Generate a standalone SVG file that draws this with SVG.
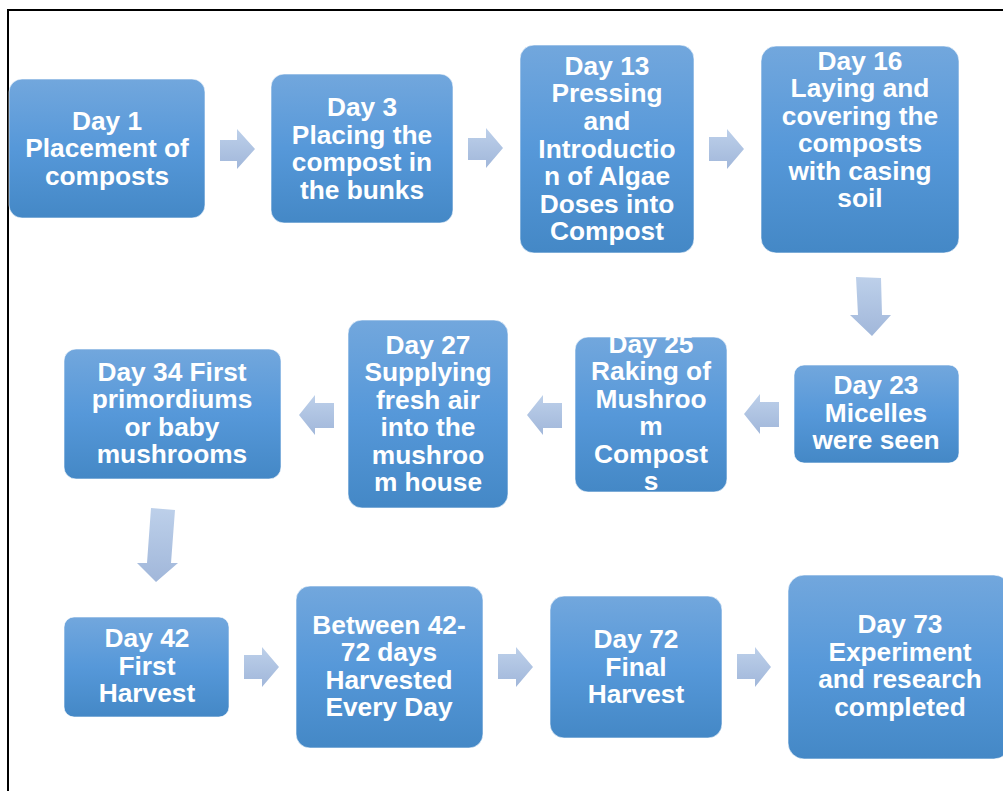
<svg xmlns="http://www.w3.org/2000/svg" width="1003" height="791" viewBox="0 0 1003 791">
  <defs>
    <linearGradient id="boxFill" x1="0" y1="0" x2="0" y2="1">
      <stop offset="0" stop-color="#72a7dd"/>
      <stop offset="0.5" stop-color="#5698d9"/>
      <stop offset="1" stop-color="#4488c6"/>
    </linearGradient>
    <linearGradient id="arrowFill" x1="0" y1="0" x2="0" y2="1">
      <stop offset="0" stop-color="#bdd0ea"/>
      <stop offset="1" stop-color="#a1b7da"/>
    </linearGradient>
    <style>
      .box { fill: url(#boxFill); stroke: #ffffff; stroke-opacity: 0.6; stroke-width: 1; }
      .arrow { fill: url(#arrowFill); stroke: none; }
      .label { font-family: "Liberation Sans", Arial, sans-serif; font-weight: bold; font-size: 26.3px; fill: #ffffff; text-anchor: middle; }
      .frame { stroke: #000000; stroke-width: 2; fill: none; }
    </style>
  </defs>

  <rect width="1003" height="791" fill="#ffffff"/>
  <!-- page frame: top and left edges -->
  <polyline class="frame" points="8,791 8,10 1003,10"/>

  <!-- flow arrows -->
  <g id="connectors">
    <polygon class="arrow" points="220,140 237,140 237,129 255,149 237,169 237,161 220,161"/>
    <polygon class="arrow" points="468,138 486,138 486,128 503,148 486,168 486,160 468,160"/>
    <polygon class="arrow" points="709,137 727,137 727,129 744,149 727,169 727,161 709,161"/>
    <polygon class="arrow" points="856,277 881,278 882,315 891,315 872,336 850,315 858,315"/>
    <polygon class="arrow" points="779,402 760,402 760,394 744,414 760,434 760,427 779,427"/>
    <polygon class="arrow" points="562,403 543,403 543,395 527,415 543,435 543,428 562,428"/>
    <polygon class="arrow" points="334,403 315,403 315,395 299,415 315,435 315,428 334,428"/>
    <polygon class="arrow" points="151,508 175,510 171,563 178,563 156,582 137,563 147,563"/>
    <polygon class="arrow" points="244,655 262,655 262,647 279,667 262,687 262,679 244,679"/>
    <polygon class="arrow" points="498,654 516,654 516,647 533,667 516,687 516,679 498,679"/>
    <polygon class="arrow" points="737,654 755,654 755,647 771,667 755,687 755,679 737,679"/>
  </g>

  <g id="day1">
    <rect class="box" x="9" y="79" width="196" height="139" rx="13"/>
    <text class="label"><tspan x="107" y="130">Day 1</tspan><tspan x="107" y="157">Placement of</tspan><tspan x="107" y="185">composts</tspan></text>
  </g>

  <g id="day3">
    <rect class="box" x="271" y="74" width="182" height="149" rx="13"/>
    <text class="label"><tspan x="362" y="116">Day 3</tspan><tspan x="362" y="144">Placing the</tspan><tspan x="362" y="171">compost in</tspan><tspan x="362" y="199">the bunks</tspan></text>
  </g>

  <g id="day13">
    <rect class="box" x="520" y="45" width="174" height="208" rx="14"/>
    <text class="label"><tspan x="607" y="75">Day 13</tspan><tspan x="607" y="102">Pressing</tspan><tspan x="607" y="130">and</tspan><tspan x="607" y="158">Introductio</tspan><tspan x="607" y="185">n of Algae</tspan><tspan x="607" y="213">Doses into</tspan><tspan x="607" y="240">Compost</tspan></text>
  </g>

  <g id="day16">
    <rect class="box" x="761" y="46" width="198" height="207" rx="15"/>
    <text class="label"><tspan x="860" y="70">Day 16</tspan><tspan x="860" y="97">Laying and</tspan><tspan x="860" y="125">covering the</tspan><tspan x="860" y="152">composts</tspan><tspan x="860" y="180">with casing</tspan><tspan x="860" y="207">soil</tspan></text>
  </g>

  <g id="day23">
    <rect class="box" x="794" y="365" width="165" height="98" rx="10"/>
    <text class="label"><tspan x="876" y="394">Day 23</tspan><tspan x="876" y="422">Micelles</tspan><tspan x="876" y="449">were seen</tspan></text>
  </g>

  <g id="day25">
    <rect class="box" x="575" y="337" width="152" height="155" rx="13"/>
    <text class="label"><tspan x="651" y="353">Day 25</tspan><tspan x="651" y="380">Raking of</tspan><tspan x="651" y="408">Mushroo</tspan><tspan x="651" y="435">m</tspan><tspan x="651" y="463">Compost</tspan><tspan x="651" y="490">s</tspan></text>
  </g>

  <g id="day27">
    <rect class="box" x="348" y="320" width="160" height="188" rx="14"/>
    <text class="label"><tspan x="428" y="354">Day 27</tspan><tspan x="428" y="381">Supplying</tspan><tspan x="428" y="409">fresh air</tspan><tspan x="428" y="436">into the</tspan><tspan x="428" y="464">mushroo</tspan><tspan x="428" y="491">m house</tspan></text>
  </g>

  <g id="day34">
    <rect class="box" x="64" y="349" width="217" height="130" rx="12"/>
    <text class="label"><tspan x="172" y="381">Day 34 First</tspan><tspan x="172" y="408">primordiums</tspan><tspan x="172" y="436">or baby</tspan><tspan x="172" y="463">mushrooms</tspan></text>
  </g>

  <g id="day42">
    <rect class="box" x="64" y="617" width="165" height="100" rx="10"/>
    <text class="label"><tspan x="147" y="647">Day 42</tspan><tspan x="147" y="675">First</tspan><tspan x="147" y="702">Harvest</tspan></text>
  </g>

  <g id="days42to72">
    <rect class="box" x="296" y="586" width="187" height="162" rx="14"/>
    <text class="label"><tspan x="389" y="634">Between 42-</tspan><tspan x="389" y="661">72 days</tspan><tspan x="389" y="689">Harvested</tspan><tspan x="389" y="716">Every Day</tspan></text>
  </g>

  <g id="day72">
    <rect class="box" x="550" y="596" width="172" height="142" rx="14"/>
    <text class="label"><tspan x="636" y="648">Day 72</tspan><tspan x="636" y="676">Final</tspan><tspan x="636" y="703">Harvest</tspan></text>
  </g>

  <g id="day73">
    <rect class="box" x="788" y="575" width="222" height="184" rx="16"/>
    <text class="label"><tspan x="900" y="633">Day 73</tspan><tspan x="900" y="661">Experiment</tspan><tspan x="900" y="688">and research</tspan><tspan x="900" y="716">completed</tspan></text>
  </g>
</svg>
